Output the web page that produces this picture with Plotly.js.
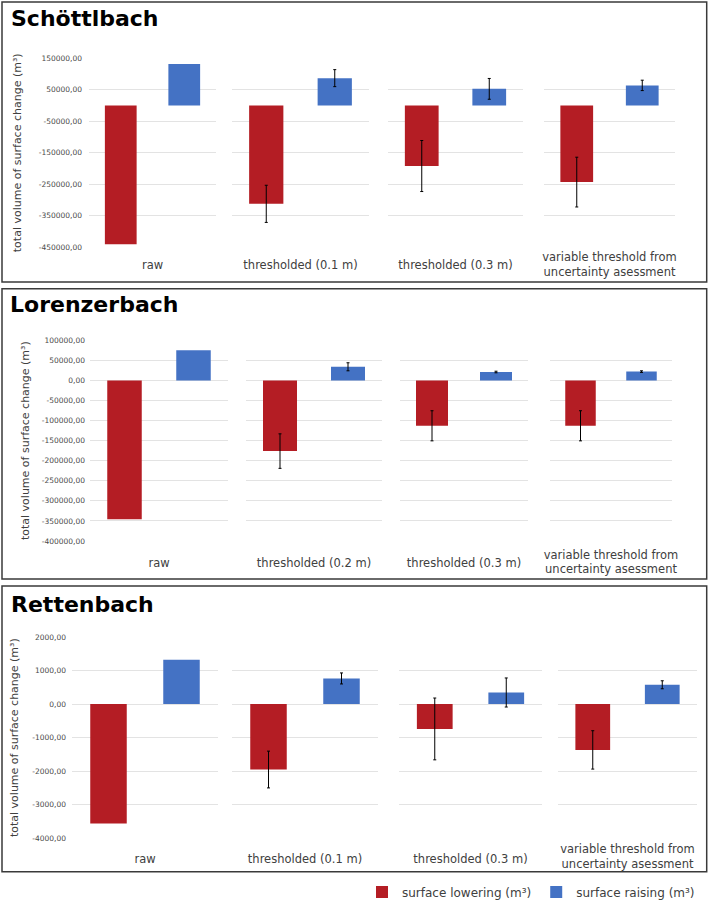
<!DOCTYPE html>
<html>
<head>
<meta charset="utf-8">
<script src="https://cdn.plot.ly/plotly-3.0.1.min.js"></script>
<style>html,body{margin:0;padding:0;background:#fff}#chart{width:709px;height:900px}</style>
</head>
<body>
<div id="chart"></div>
<script>
// ---------- DATA ----------
const panelTitles = ["Schöttlbach", "Lorenzerbach", "Rettenbach"];
const seriesNames = ["surface lowering (m³)", "surface raising (m³)"];
const yAxisTitle = "total volume of surface change (m³)";

const categoriesSchoettl = ["raw", "thresholded (0.1 m)", "thresholded (0.3 m)", "variable threshold from<br>uncertainty asessment"];
const categoriesLorenz   = ["raw", "thresholded (0.2 m)", "thresholded (0.3 m)", "variable threshold from<br>uncertainty asessment"];
const categoriesRetten   = ["raw", "thresholded (0.1 m)", "thresholded (0.3 m)", "variable threshold from<br>uncertainty asessment"];

const schoettlLowering    = [-440000, -312000, -192000, -243000];
const schoettlLoweringErr = [null, 59000, 81000, 79000];
const schoettlRaising     = [132000, 87000, 53000, 64000];
const schoettlRaisingErr  = [null, 27000, 33000, 16500];
const schoettlTicks = [150000, 50000, -50000, -150000, -250000, -350000, -450000];

const lorenzLowering    = [-346000, -176000, -113000, -113000];
const lorenzLoweringErr = [null, 43000, 37500, 37500];
const lorenzRaising     = [75000, 34000, 21000, 22000];
const lorenzRaisingErr  = [null, 10000, 2000, 2000];
const lorenzTicks = [100000, 50000, 0, -50000, -100000, -150000, -200000, -250000, -300000, -350000, -400000];

const rettenLowering    = [-3560, -1950, -740, -1365];
const rettenLoweringErr = [null, 548, 921, 572];
const rettenRaising     = [1320, 765, 346, 576];
const rettenRaisingErr  = [null, 164, 433, 119];
const rettenTicks = [2000, 1000, 0, -1000, -2000, -3000, -4000];

// ---------- STYLE / GEOMETRY ----------
const W = 709, H = 900;
const px = v => v / W;
const py = v => 1 - v / H;
const COLORS = ["#B41D24", "#4472C4"];
const FONT = "DejaVu Sans, Verdana, sans-serif";

const panels = [
  {title: panelTitles[0], cats: categoriesSchoettl, low: schoettlLowering, lowErr: schoettlLoweringErr, rise: schoettlRaising, riseErr: schoettlRaisingErr, ticks: schoettlTicks},
  {title: panelTitles[1], cats: categoriesLorenz, low: lorenzLowering, lowErr: lorenzLoweringErr, rise: lorenzRaising, riseErr: lorenzRaisingErr, ticks: lorenzTicks},
  {title: panelTitles[2], cats: categoriesRetten, low: rettenLowering, lowErr: rettenLoweringErr, rise: rettenRaising, riseErr: rettenRaisingErr, ticks: rettenTicks}
];
const yDomPx = [[247.3, 58.3], [541, 340.3], [838.3, 637]];
const xDomPx = [
  [[89, 216], [232, 369], [388, 523], [544, 675]],
  [[90, 228], [246, 382], [400, 528], [550, 672]],
  [[72, 218], [232, 378], [399, 542], [558, 697]]
];
const boxPx = [[2, 2, 706.7, 282], [2, 288.7, 706.7, 579], [2, 586, 706.7, 871.7]];
const titlePx = [[9, 18.5], [7.5, 304.5], [8.5, 604]];
const yTitleStandoff = [14, 9, 11];
const yTickStandoff = [6, 4, 5];
const xLabelStandoff = [[9, 9, 9, 1], [13, 13, 13, 5], [12, 12, 12, 2]];

const fmt = v => (v < 0 ? "-" : "") + Math.abs(v).toFixed(2).replace(".", ",");

const traces = [];
const layout = {
  width: W, height: H,
  margin: {l: 0, r: 0, t: 0, b: 0, pad: 0, autoexpand: false},
  paper_bgcolor: "#fff", plot_bgcolor: "rgba(0,0,0,0)",
  font: {family: FONT, color: "#404040"},
  barmode: "group", bargap: 0, bargroupgap: 0.5,
  showlegend: true,
  legend: {orientation: "h", x: px(700), xanchor: "right", y: py(892), yanchor: "middle",
           font: {size: 12, color: "#404040", family: FONT}, itemwidth: 30, tracegroupgap: 0, bgcolor: "rgba(0,0,0,0)"},
  shapes: [], annotations: []
};

panels.forEach((p, pi) => {
  const yName = pi === 0 ? "y" : "y" + (pi + 1);
  const yKey = pi === 0 ? "yaxis" : "yaxis" + (pi + 1);
  const firstX = "x" + (pi * 4 + 1);
  const yMin = Math.min(...p.ticks), yMax = Math.max(...p.ticks);
  layout[yKey] = {
    domain: [py(yDomPx[pi][0]), py(yDomPx[pi][1])],
    anchor: firstX,
    range: [yMin, yMax],
    tickvals: p.ticks,
    ticktext: p.ticks.map(fmt),
    tickfont: {size: 7.5, color: "#4a4a4a", family: FONT},
    ticks: "", ticklabelstandoff: yTickStandoff[pi],
    showgrid: true, gridcolor: "#e3e3e3", gridwidth: 1,
    zeroline: false, showline: false, fixedrange: true, automargin: false,
    title: {text: yAxisTitle, font: {size: 11, color: "#404040", family: FONT}, standoff: yTitleStandoff[pi]}
  };
  p.cats.forEach((cat, si) => {
    const k = pi * 4 + si + 1;
    const xName = "x" + k;
    const xKey = "xaxis" + k;
    layout[xKey] = {
      domain: [px(xDomPx[pi][si][0]), px(xDomPx[pi][si][1])],
      anchor: yName,
      type: "category",
      showgrid: false, zeroline: false, showline: false, ticks: "",
      tickfont: {size: 11.5, color: "#404040", family: FONT},
      ticklabelstandoff: xLabelStandoff[pi][si],
      fixedrange: true, automargin: false
    };
    [[p.low, p.lowErr], [p.rise, p.riseErr]].forEach(([vals, errs], ti) => {
      traces.push({
        type: "bar",
        name: seriesNames[ti],
        legendgroup: "s" + ti,
        showlegend: pi === 0 && si === 0,
        x: [cat], y: [vals[si]],
        xaxis: xName, yaxis: yName,
        marker: {color: COLORS[ti]},
        error_y: {type: "data", array: [errs[si]], visible: errs[si] !== null, color: "#000", thickness: 1, width: 1.5},
        hoverinfo: "y"
      });
    });
  });
  const b = boxPx[pi];
  layout.shapes.push({type: "rect", xref: "paper", yref: "paper",
    x0: px(b[0]), x1: px(b[2]), y0: py(b[3]), y1: py(b[1]),
    line: {color: "#3a3a3a", width: 1.5}, fillcolor: "rgba(0,0,0,0)", layer: "below"});
  layout.annotations.push({xref: "paper", yref: "paper", x: px(titlePx[pi][0]), y: py(titlePx[pi][1]),
    xanchor: "left", yanchor: "middle", showarrow: false, text: "<b>" + p.title + "</b>",
    font: {size: 22, color: "#000", family: FONT}});
});

Plotly.newPlot("chart", traces, layout, {displayModeBar: false, staticPlot: true});
</script>
</body>
</html>
